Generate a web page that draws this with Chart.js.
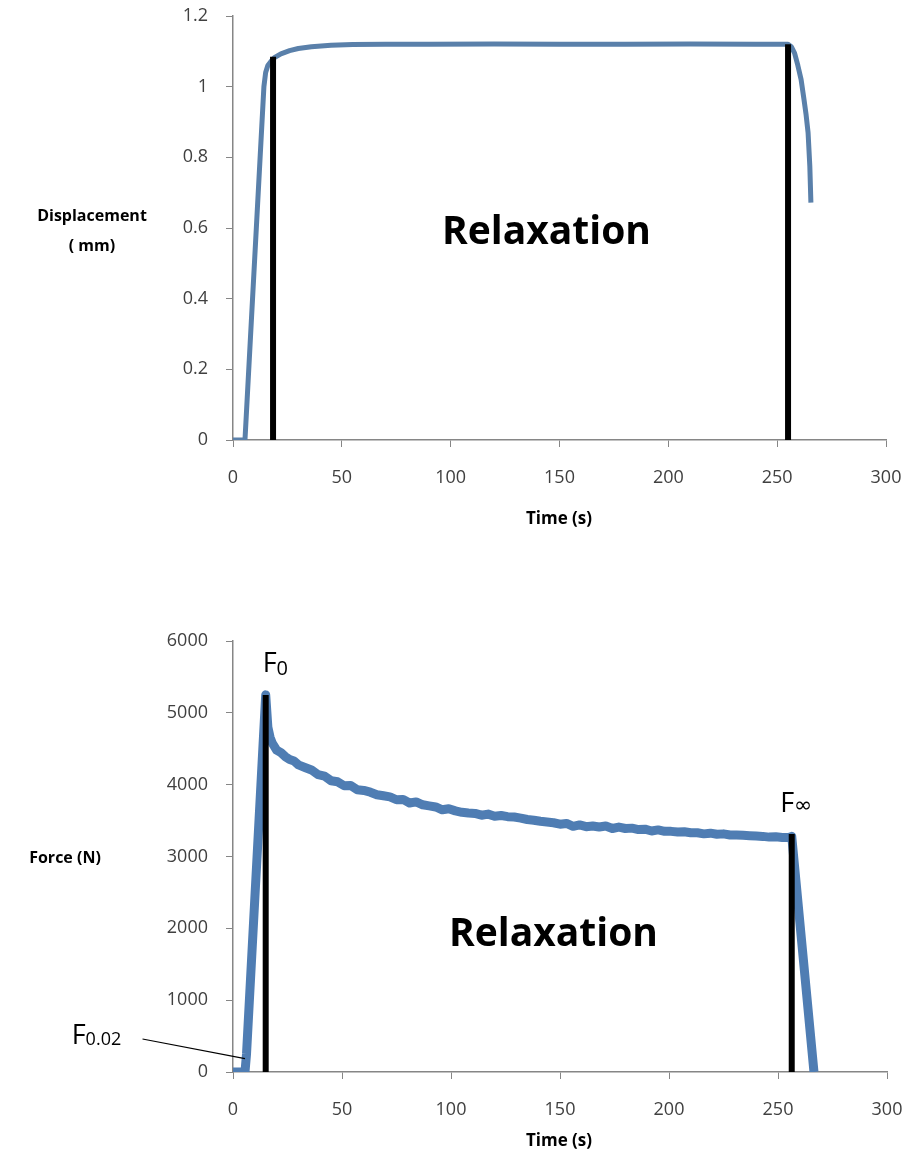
<!DOCTYPE html>
<html>
<head>
<meta charset="utf-8">
<script src="https://cdn.jsdelivr.net/npm/chart.js@4.4.1/dist/chart.umd.min.js"></script>
<style>
  html, body { margin: 0; padding: 0; background: #fff; }
  .wrap { position: relative; width: 911px; }
  canvas { display: block; }
</style>
</head>
<body>
<div class="wrap" style="height:545px"><canvas id="chart_disp" width="911" height="545"></canvas></div>
<div class="wrap" style="height:615px"><canvas id="chart_force" width="911" height="615"></canvas></div>
<script>
// displacement curve (top)
const dispTime = [0, 5.5, 14.2, 15, 16, 17.5, 19, 22, 26, 30, 36, 45, 55, 70, 90, 120, 150, 180, 210, 240, 255, 256.5, 258, 259.5, 261, 262.3, 263.3, 264.2, 265, 265.5];
const dispMm = [0, 0, 1.0, 1.04, 1.06, 1.072, 1.082, 1.093, 1.102, 1.108, 1.113, 1.117, 1.119, 1.12, 1.12, 1.121, 1.12, 1.12, 1.121, 1.12, 1.12, 1.113, 1.095, 1.06, 1.02, 0.965, 0.92, 0.87, 0.775, 0.672];

// force curve (bottom)
const forceTime = [0, 5.5, 6.2, 15, 16, 17,
  18, 20, 22, 24, 26, 28, 30, 33, 36, 39, 42, 45, 48, 51, 54, 57, 60, 63, 66, 69, 72, 75, 78, 81, 84, 87,
  90, 93, 96, 99, 102, 105, 108, 111, 114, 117, 120, 123, 126, 129, 132, 135, 138, 141, 144, 147,
  150, 153, 156, 159, 162, 165, 168, 171, 174, 177, 180, 183, 186, 189, 192, 195, 198, 201, 204, 207,
  210, 213, 216, 219, 222, 225, 228, 231, 234, 237, 240, 243, 246, 249, 252, 255, 256.3, 266.5];
const forceN = [0, 0, 250, 5250, 4800, 4660,
  4580, 4480, 4445, 4390, 4350, 4330, 4275, 4240, 4205, 4140, 4120, 4055, 4040, 3985, 3990, 3930, 3920, 3895, 3860, 3845, 3830, 3790, 3795, 3745, 3760, 3720,
  3705, 3690, 3650, 3665, 3635, 3615, 3605, 3600, 3575, 3590, 3560, 3570, 3555, 3550, 3535, 3515, 3505, 3490, 3480, 3470,
  3450, 3460, 3420, 3440, 3415, 3425, 3410, 3425, 3390, 3410, 3390, 3395, 3375, 3380, 3355, 3370, 3350, 3350, 3340, 3345,
  3330, 3330, 3315, 3325, 3310, 3315, 3300, 3300, 3295, 3290, 3285, 3280, 3270, 3275, 3265, 3265, 3280, 0];

// black marker lines
const dispMarkTime = [18.4, 255];
const dispMarkTop = [1.085, 1.12];
const forceMarkTime = [15, 256.3];
const forceMarkTop = [5250, 3313];

const FONT = "'Open Sans', 'Noto Sans', sans-serif";
const AXIS_COLOR = "#868686";
const TICK_COLOR = "#404040";

function points(xs, ys) {
  return xs.map((x, i) => ({ x: x, y: ys[i] }));
}

function markers(xs, tops) {
  return xs.map((x, i) => ({
    data: [{ x: x, y: 0 }, { x: x, y: tops[i] }],
    borderColor: "#000",
    borderWidth: 6,
    borderCapStyle: "butt",
    pointRadius: 0,
    order: 0,
  }));
}

// draws the free text: axis titles, "Relaxation", F labels
const textPlugin = {
  id: "texts",
  afterDraw(chart, args, opts) {
    const ctx = chart.ctx;
    const xs = chart.scales.x, ys = chart.scales.y;
    const area = chart.chartArea;
    ctx.save();
    ctx.fillStyle = "#000";
    ctx.strokeStyle = "#000";
    (opts.items || []).forEach((it) => {
      let px, py;
      if (it.data) {
        px = xs.getPixelForValue(it.data[0]);
        py = ys.getPixelForValue(it.data[1]);
      } else {
        px = area.left + it.dx;
        py = area.bottom + it.dy;
      }
      if (it.line) {
        const p2x = xs.getPixelForValue(it.line[0]);
        const p2y = ys.getPixelForValue(it.line[1]);
        ctx.lineWidth = 1.2;
        ctx.beginPath();
        ctx.moveTo(px, py);
        ctx.lineTo(p2x, p2y);
        ctx.stroke();
        return;
      }
      ctx.font = it.font;
      ctx.fillStyle = it.color || "#000";
      ctx.textAlign = it.align || "left";
      ctx.textBaseline = it.baseline || "alphabetic";
      ctx.fillText(it.text, px, py);
      if (it.sub) {
        const w = ctx.measureText(it.text).width;
        ctx.font = it.subFont;
        ctx.textAlign = "left";
        ctx.fillText(it.sub, px + w + (it.subGap || 0), py + (it.subDy || 0));
      }
    });
    ctx.restore();
  },
};

function axes(yMax, yStep, yWidth, xHeight, fmt) {
  return {
    x: {
      type: "linear",
      min: 0,
      max: 300,
      ticks: { stepSize: 50, color: TICK_COLOR, font: { family: FONT, size: 18 }, padding: 20, maxRotation: 0 },
      grid: { drawOnChartArea: false, drawTicks: true, tickLength: 7, color: AXIS_COLOR },
      border: { color: AXIS_COLOR, width: 1.5 },
      afterFit: (s) => { s.height = xHeight; s.paddingLeft = 0; s.paddingRight = 0; },
    },
    y: {
      type: "linear",
      min: 0,
      max: yMax,
      ticks: { stepSize: yStep, color: TICK_COLOR, font: { family: FONT, size: 18 }, padding: 18, callback: fmt },
      grid: { drawOnChartArea: false, drawTicks: true, tickLength: 7, color: AXIS_COLOR },
      border: { color: AXIS_COLOR, width: 1.5 },
      afterFit: (s) => { s.width = yWidth; s.paddingTop = 0; s.paddingBottom = 0; },
    },
  };
}

const displacementChart = new Chart(document.getElementById("chart_disp").getContext("2d"), {
  type: "line",
  data: {
    datasets: markers(dispMarkTime, dispMarkTop).concat([{
      data: points(dispTime, dispMm),
      borderColor: "#5a80aa",
      borderWidth: 5,
      borderJoinStyle: "round",
      pointRadius: 0,
      order: 1,
    }]),
  },
  options: {
    responsive: false,
    animation: false,
    layout: { padding: { top: 16, right: 25, left: 0, bottom: 0 } },
    scales: axes(1.2, 0.2, 233, 105, (v) => String(+v.toFixed(1))),
    plugins: {
      legend: { display: false },
      tooltip: { enabled: false },
      texts: {
        items: [
          { text: "Displacement", dx: -141, dy: -219, font: "bold 16px " + FONT, align: "center" },
          { text: "( mm)", dx: -141, dy: -189, font: "bold 16px " + FONT, align: "center" },
          { text: "Time (s)", dx: 326, dy: 84, font: "bold 17px " + FONT, align: "center" },
          { text: "Relaxation", data: [144, 0.587], font: "bold 39px " + FONT, align: "center", baseline: "middle" },
        ],
      },
    },
  },
  plugins: [textPlugin],
});

const forceChart = new Chart(document.getElementById("chart_force").getContext("2d"), {
  type: "line",
  data: {
    datasets: markers(forceMarkTime, forceMarkTop).concat([{
      data: points(forceTime, forceN),
      borderColor: "#4f7db3",
      borderWidth: 9,
      borderJoinStyle: "round",
      pointRadius: 0,
      order: 1,
    }]),
  },
  options: {
    responsive: false,
    animation: false,
    layout: { padding: { top: 96, right: 24, left: 0, bottom: 0 } },
    scales: axes(6000, 1000, 233, 88, (v) => String(v)),
    plugins: {
      legend: { display: false },
      tooltip: { enabled: false },
      texts: {
        items: [
          { text: "Force (N)", dx: -168, dy: -209, font: "bold 16px " + FONT, align: "center" },
          { text: "Time (s)", dx: 326, dy: 74, font: "bold 17px " + FONT, align: "center" },
          { text: "Relaxation", data: [147, 1907], font: "bold 39px " + FONT, align: "center", baseline: "middle" },
          { text: "F", sub: "0", data: [13.6, 5575], font: "27px " + FONT, subFont: "20px " + FONT, subDy: 3, subGap: 0 },
          { text: "F", sub: "\u221e", data: [251, 3620], font: "27px " + FONT, subFont: "22px 'DejaVu Sans', sans-serif", subDy: 0, subGap: 0 },
          { text: "F", sub: "0.02", data: [-74, 390], font: "27px " + FONT, subFont: "18px " + FONT, subDy: 1, subGap: 0 },
          { data: [-41.5, 459], line: [5.5, 185] },
        ],
      },
    },
  },
  plugins: [textPlugin],
});
</script>
</body>
</html>
